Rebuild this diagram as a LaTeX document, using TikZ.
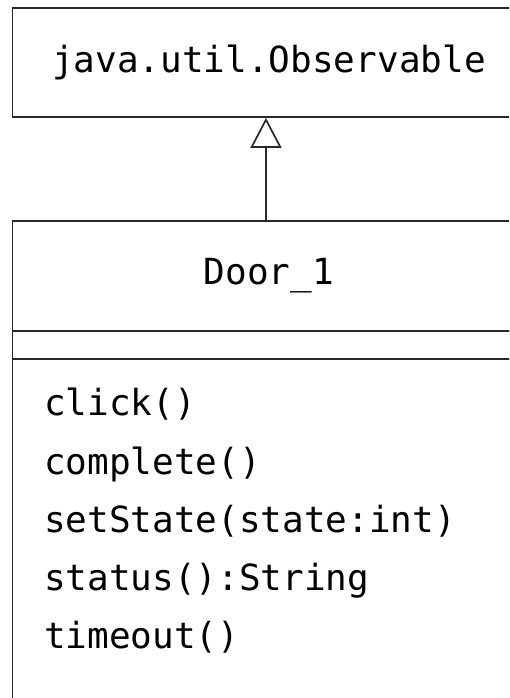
\documentclass[tikz,border=0pt]{standalone}
\usepackage{fontspec}
\setmonofont{DejaVu Sans Mono}
\usetikzlibrary{arrows.meta}
\definecolor{umlline}{RGB}{40,40,40}
\tikzset{
  classbox/.style ={draw=umlline, line width=1.7pt, minimum width=513pt, inner sep=0pt,
                    font=\fontsize{36}{40}\selectfont\ttfamily},
  opname/.style   ={anchor=base west, inner sep=0pt, font=\fontsize{36}{40}\selectfont\ttfamily},
  inherit/.style  ={-{Triangle[open, length=30pt, width=31pt]}, draw=umlline, line width=1.7pt}
}
\begin{document}
\begin{tikzpicture}[x=1pt, y=1pt]
  \path[use as bounding box, clip] (0,0) rectangle (509,-698);
  \node[classbox, minimum height=109pt] (obs)   at (269,-62.5) {java.util.Observable};
  \node[classbox, minimum height=110pt] (door)  at (269,-276)  {Door\_1};
  \node[classbox, minimum height=28pt]  (attrs) at (269,-345)  {};
  \node[classbox, minimum height=361pt] (ops)   at (269,-539.5) {};
  \node[opname] (click)    at (44,-415)   {click()};
  \node[opname] (complete) at (44,-474)   {complete()};
  \node[opname] (setstate) at (44,-532)   {setState(state:int)};
  \node[opname] (status)   at (44,-590)   {status():String};
  \node[opname] (timeout)  at (44,-648)   {timeout()};
  \draw[inherit] ([xshift=-3pt]door.north) -- ([xshift=-3pt]obs.south);
\end{tikzpicture}
\end{document}
